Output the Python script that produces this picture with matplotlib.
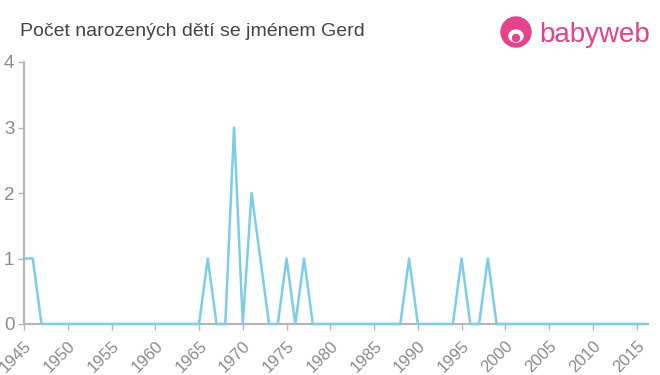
import matplotlib
matplotlib.use("Agg")
import matplotlib.pyplot as plt
from matplotlib.patches import Ellipse

plt.rcParams["font.family"] = ["Liberation Sans", "DejaVu Sans"]

# Počet narozených dětí se jménem Gerd, 1945-2016
years = list(range(1945, 2017))
counts = [0] * len(years)
births = {1945: 1, 1946: 1, 1966: 1, 1969: 3, 1971: 2, 1972: 1,
          1975: 1, 1977: 1, 1989: 1, 1995: 1, 1998: 1}
for y, v in births.items():
    counts[years.index(y)] = v

xticks = list(range(1945, 2016, 5))
yticks = [0, 1, 2, 3, 4]

fig = plt.figure(figsize=(6.6, 3.75), dpi=100)
fig.patch.set_facecolor("white")
ax = fig.add_axes([24 / 660, 51 / 375, 624 / 660, 262 / 375])

ax.plot(years, counts, color="#7dcdea", lw=1.8, clip_on=False, zorder=3)

ax.set_xlim(1945, 2016.3)
ax.set_ylim(0, 4)
ax.set_xticks(xticks)
ax.set_xticklabels([str(t) for t in xticks], rotation=45, ha="right",
                   rotation_mode="anchor", fontsize=12, color="#8a8a8a")
ax.set_yticks(yticks)
ax.set_yticklabels([str(t) for t in yticks], fontsize=13.5, color="#8a8a8a")
ax.tick_params(axis="both", length=4, width=1, color="#b5b5b5", pad=3)
ax.tick_params(axis="x", pad=6)
ax.spines[["top", "right"]].set_visible(False)
for s in ["left", "bottom"]:
    ax.spines[s].set_color("#b5b5b5")
    ax.spines[s].set_linewidth(1.5)

fig.text(20 / 660, 1 - 31 / 375, "Počet narozených dětí se jménem Gerd",
         fontsize=14, color="#444444", va="center", ha="left")

# babyweb logo
pink = "#e4428a"
cx, cy = 516 / 660, 1 - 32 / 375
fig.patches.append(Ellipse((cx, cy), 30 / 660, 30 / 375,
                           transform=fig.transFigure, color=pink))
fig.patches.append(Ellipse((cx, cy - 4 / 375), 14 / 660, 12 / 375,
                           transform=fig.transFigure, color="white"))
fig.patches.append(Ellipse((cx, cy - 6 / 375), 7 / 660, 7 / 375,
                           transform=fig.transFigure, color=pink))
fig.text(539 / 660, 1 - 35 / 375, "babyweb", fontsize=20, color=pink,
         va="center", ha="left")

fig.savefig("out.png", dpi=100)
